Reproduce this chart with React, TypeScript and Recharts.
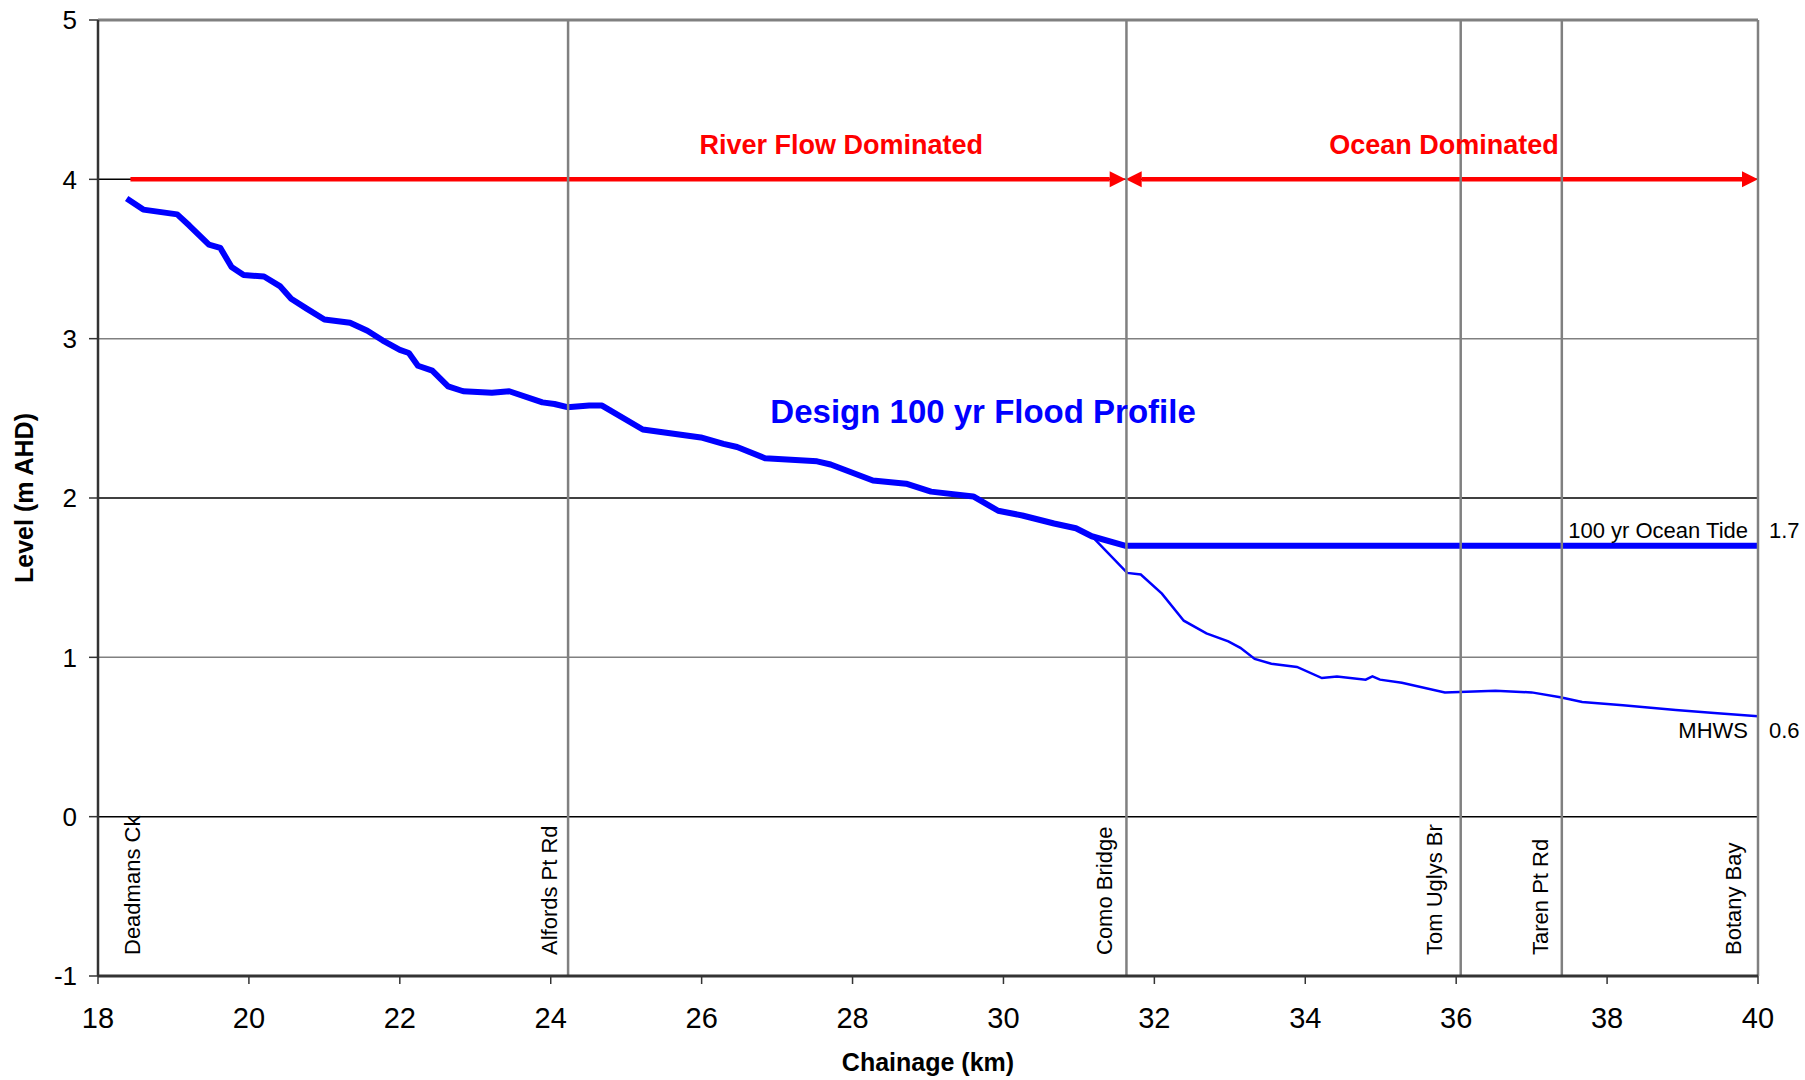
import React from 'react';
import { LineChart, Line, XAxis, YAxis, ReferenceLine, ReferenceDot } from 'recharts';

const FONT = '"Liberation Sans", Arial, Helvetica, sans-serif';
const BLUE = '#0000ff';
const RED = '#ff0000';
const GRID = '#808080';

// design 100 yr flood profile: chainage (km) / level (m AHD)
const floodKm = [
  18.38, 18.6, 19.05, 19.21, 19.47, 19.62, 19.77, 19.93, 20.2, 20.41, 20.56, 20.76, 21.0, 21.34,
  21.57, 21.77, 22.0, 22.12, 22.24, 22.43, 22.64, 22.84, 23.22, 23.45, 23.89, 24.05, 24.22, 24.51,
  24.68, 25.22, 25.99, 26.29, 26.47, 26.84, 27.53, 27.71, 28.27, 28.71, 29.04, 29.6, 29.93, 30.25,
  30.67, 30.96, 31.17, 31.62, 40.0,
];
const floodLevel = [
  3.88, 3.81, 3.78, 3.71, 3.59, 3.57, 3.45, 3.4, 3.39, 3.33, 3.25, 3.19, 3.12, 3.1,
  3.05, 2.99, 2.93, 2.91, 2.83, 2.8, 2.7, 2.67, 2.66, 2.67, 2.6, 2.59, 2.57, 2.58,
  2.58, 2.43, 2.38, 2.34, 2.32, 2.25, 2.23, 2.21, 2.11, 2.09, 2.04, 2.01, 1.92, 1.89,
  1.84, 1.81, 1.76, 1.7, 1.7,
];

// profile under normal tide below Como Bridge
const tidalKm = [
  31.17, 31.64, 31.82, 32.1, 32.39, 32.69, 32.98, 33.14, 33.33, 33.55, 33.89, 34.22, 34.42,
  34.8, 34.89, 34.99, 35.28, 35.85, 36.52, 37.0, 37.38, 37.67, 38.21, 38.91, 39.42, 40.0,
];
const tidalLevel = [
  1.76, 1.53, 1.52, 1.4, 1.23, 1.15, 1.1, 1.06, 0.99, 0.96, 0.94, 0.87, 0.88,
  0.86, 0.88, 0.86, 0.84, 0.78, 0.79, 0.78, 0.75, 0.72, 0.7, 0.67, 0.65, 0.63,
];

const xTicks = [18, 20, 22, 24, 26, 28, 30, 32, 34, 36, 38, 40];
const yTicks = [-1, 0, 1, 2, 3, 4, 5];
const yMinorTicks = [
  -0.8, -0.6, -0.4, -0.2, 0.2, 0.4, 0.6, 0.8, 1.2, 1.4, 1.6, 1.8,
  2.2, 2.4, 2.6, 2.8, 3.2, 3.4, 3.6, 3.8, 4.2, 4.4, 4.6, 4.8,
];
const darkGridLevels = [0, 2, 4];
const greyGridLevels = [1, 3];

const landmarks = ['Deadmans Ck', 'Alfords Pt Rd', 'Como Bridge', 'Tom Uglys Br', 'Taren Pt Rd', 'Botany Bay'];
const landmarkKm = [18.68, 24.23, 31.63, 36.06, 37.4, 40];
const landmarkShift = [-9, -11, -14, -19, -14, -17];

const zones = ['River Flow Dominated', 'Ocean Dominated'];
const zoneFrom = [18.43, 31.62];
const zoneTo = [31.62, 40];
const zoneLevel = 4;
const zoneLabelKm = [27.85, 35.84];
const zoneLabelLevel = 4.16;

const tideLevel = 1.7;
const mhwsLevel = 0.6;

const floodData = floodKm.map((km, i) => ({ km, level: floodLevel[i] }));
const tidalData = tidalKm.map((km, i) => ({ km, level: tidalLevel[i] }));

const vbOf = (p: any) => p.viewBox ?? { x: p.x, y: p.y, width: p.width ?? 0, height: p.height ?? 0 };

const Arrow = ({ x1, y1, x2, y2, both }: any) => {
  const len = 16;
  const half = 8;
  const start = both ? x1 + len : x1;
  return (
    <g>
      <line x1={start} y1={y1} x2={x2 - len} y2={y2} stroke={RED} strokeWidth={4.5} />
      <polygon points={`${x2},${y2} ${x2 - len},${y2 - half} ${x2 - len},${y2 + half}`} fill={RED} />
      {both && <polygon points={`${x1},${y1} ${x1 + len},${y1 - half} ${x1 + len},${y1 + half}`} fill={RED} />}
    </g>
  );
};

export default function App() {
  return (
    <div style={{ position: 'absolute', left: 0, top: 0, width: 1805, height: 1080, background: '#fff', fontFamily: FONT }}>
      <LineChart width={1805} height={1080} margin={{ top: 20, right: 47, bottom: 0, left: 0 }}>
        <XAxis
          dataKey="km"
          type="number"
          domain={[18, 40]}
          ticks={xTicks}
          allowDataOverflow
          height={104}
          tickSize={8}
          tickMargin={23}
          tick={{ fontSize: 29, fill: '#000' }}
          axisLine={{ stroke: '#333', strokeWidth: 3 }}
          tickLine={{ stroke: '#333', strokeWidth: 1.5 }}
          label={(p: any) => {
            const vb = vbOf(p);
            return (
              <text x={vb.x + vb.width / 2} y={vb.y + 95} textAnchor="middle" fontSize={25} fontWeight="bold" fill="#000">
                Chainage (km)
              </text>
            );
          }}
        />
        <YAxis
          type="number"
          domain={[-1, 5]}
          ticks={yTicks}
          allowDataOverflow
          width={98}
          tickSize={9}
          tickMargin={12}
          tick={{ fontSize: 26, fill: '#000' }}
          axisLine={{ stroke: '#333', strokeWidth: 2.5 }}
          tickLine={{ stroke: '#333', strokeWidth: 1.5 }}
          label={(p: any) => {
            const vb = vbOf(p);
            const x = vb.x + 33;
            const y = vb.y + vb.height / 2;
            return (
              <text x={x} y={y} transform={`rotate(-90 ${x} ${y})`} textAnchor="middle" fontSize={25} fontWeight="bold" fill="#000">
                Level (m AHD)
              </text>
            );
          }}
        />
        <YAxis
          yAxisId="minor"
          type="number"
          domain={[-1, 5]}
          ticks={yMinorTicks}
          allowDataOverflow
          mirror
          tick={false}
          tickSize={7}
          axisLine={false}
          tickLine={{ stroke: '#333', strokeWidth: 1.5 }}
        />

        {greyGridLevels.map((v) => (
          <ReferenceLine key={`g${v}`} y={v} stroke={GRID} strokeWidth={1.5} />
        ))}
        {darkGridLevels.map((v) => (
          <ReferenceLine key={`d${v}`} y={v} stroke="#000" strokeWidth={1.5} />
        ))}
        <ReferenceLine y={5} stroke={GRID} strokeWidth={3} />

        <Line
          data={tidalData}
          dataKey="level"
          type="linear"
          stroke={BLUE}
          strokeWidth={2.5}
          dot={false}
          activeDot={false}
          isAnimationActive={false}
        />
        <Line
          data={floodData}
          dataKey="level"
          type="linear"
          stroke={BLUE}
          strokeWidth={6}
          strokeLinejoin="round"
          dot={false}
          activeDot={false}
          isAnimationActive={false}
        />

        {zones.map((name, i) => (
          <ReferenceLine
            key={`z${i}`}
            segment={[
              { x: zoneFrom[i], y: zoneLevel },
              { x: zoneTo[i], y: zoneLevel },
            ]}
            shape={(p: any) => <Arrow {...p} both={i === 1} />}
          />
        ))}
        {zones.map((name, i) => (
          <ReferenceDot
            key={`zl${i}`}
            x={zoneLabelKm[i]}
            y={zoneLabelLevel}
            r={0}
            fill="none"
            stroke="none"
            label={(p: any) => {
              const vb = vbOf(p);
              return (
                <text x={vb.x} y={vb.y} textAnchor="middle" fontSize={27} fontWeight="bold" fill={RED}>
                  {name}
                </text>
              );
            }}
          />
        ))}

        <ReferenceDot
          x={29.73}
          y={2.47}
          r={0}
          fill="none"
          stroke="none"
          label={(p: any) => {
            const vb = vbOf(p);
            return (
              <text x={vb.x} y={vb.y} textAnchor="middle" fontSize={33} fontWeight="bold" fill={BLUE}>
                Design 100 yr Flood Profile
              </text>
            );
          }}
        />
        <ReferenceDot
          x={40}
          y={tideLevel}
          r={0}
          fill="none"
          stroke="none"
          label={(p: any) => {
            const vb = vbOf(p);
            return (
              <g>
                <text x={vb.x - 10} y={vb.y - 8} textAnchor="end" fontSize={22} fill="#000">
                  100 yr Ocean Tide
                </text>
                <text x={vb.x + 11} y={vb.y - 8} fontSize={22} fill="#000">
                  {tideLevel}
                </text>
              </g>
            );
          }}
        />
        <ReferenceDot
          x={40}
          y={mhwsLevel}
          r={0}
          fill="none"
          stroke="none"
          label={(p: any) => {
            const vb = vbOf(p);
            return (
              <g>
                <text x={vb.x - 10} y={vb.y + 17} textAnchor="end" fontSize={22} fill="#000">
                  MHWS
                </text>
                <text x={vb.x + 11} y={vb.y + 17} fontSize={22} fill="#000">
                  {mhwsLevel}
                </text>
              </g>
            );
          }}
        />

        {landmarks.map((name, i) => (
          <ReferenceLine
            key={`l${i}`}
            x={landmarkKm[i]}
            stroke={i === 0 ? 'none' : GRID}
            strokeWidth={2.5}
            label={(p: any) => {
              const vb = vbOf(p);
              const x = vb.x + landmarkShift[i];
              const y = vb.y + vb.height - 21;
              return (
                <text x={x} y={y} transform={`rotate(-90 ${x} ${y})`} fontSize={22} fill="#000">
                  {name}
                </text>
              );
            }}
          />
        ))}
      </LineChart>
    </div>
  );
}
